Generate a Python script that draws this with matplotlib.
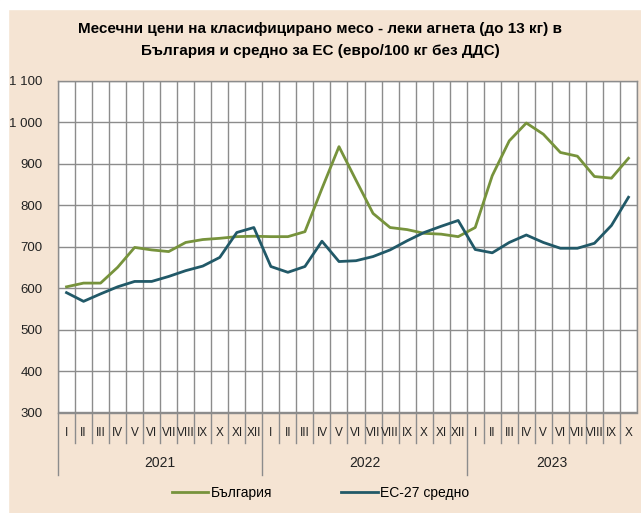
import numpy as np
import matplotlib
matplotlib.use('Agg')
import matplotlib.pyplot as plt
from matplotlib.patches import Rectangle
from matplotlib.ticker import FuncFormatter

plt.rcParams['font.family'] = ['Liberation Sans', 'DejaVu Sans']

months = ['I', 'II', 'III', 'IV', 'V', 'VI', 'VII', 'VIII', 'IX', 'X', 'XI', 'XII']
years = ['2021', '2022', '2023']
months_per_year = [12, 12, 10]
labels = months * 2 + months[:10]

bulgaria = [603, 612, 612, 650, 698, 692, 688, 710, 717, 720, 724, 725,
            724, 724, 736, 840, 941, 860, 780, 746, 741, 732, 730, 724,
            746, 871, 955, 998, 971, 927, 918, 869, 865, 913]
eu27 = [589, 568, 586, 603, 616, 616, 628, 642, 653, 674, 734, 746,
        652, 638, 652, 713, 664, 666, 676, 692, 714, 734, 749, 763,
        693, 685, 710, 728, 710, 696, 696, 708, 751, 819]

bg_col = '#F5E4D3'
fig = plt.figure(figsize=(6.41, 5.13), dpi=100)
fig.patch.set_facecolor(bg_col)
# white strip at top and left edges
fig.patches.append(Rectangle((0, 1 - 9 / 513), 1, 9 / 513, transform=fig.transFigure,
                             color='white', zorder=0))
fig.patches.append(Rectangle((0, 0), 8 / 641, 1, transform=fig.transFigure,
                             color='white', zorder=0))

ax = fig.add_axes([58 / 641, (513 - 412.5) / 513, 579 / 641, 331.8 / 513])
ax.set_facecolor('white')

x = np.arange(len(labels))
ax.plot(x, bulgaria, color='#77933C', lw=2.0, label='България', zorder=3)
ax.plot(x, eu27, color='#215968', lw=2.0, label='ЕС-27 средно', zorder=3)

ax.set_xlim(-0.5, len(labels) - 0.5)
ax.set_ylim(300, 1100)
ax.set_yticks(range(300, 1101, 100))
ax.yaxis.set_major_formatter(FuncFormatter(lambda v, p: f'{int(v):,}'.replace(',', ' ')))
ax.tick_params(axis='y', length=0, pad=11, labelsize=9.5, labelcolor='#222222')

ax.set_xticks(np.arange(-0.5, len(labels), 1), minor=True)
ax.set_xticks([])
ax.grid(True, which='minor', axis='x', color='#8C8C8C', lw=1.0)
ax.grid(True, which='major', axis='y', color='#8C8C8C', lw=1.0)
ax.set_axisbelow(True)
for s in ax.spines.values():
    s.set_color('#8C8C8C')
    s.set_linewidth(1.0)
ax.tick_params(axis='x', which='both', length=0, labelbottom=False)

trans = ax.get_xaxis_transform()
for i, lab in enumerate(labels):
    ax.text(i, -0.062, lab, transform=trans, ha='center', va='center',
            fontsize=8.5, color='#222222')

# category separators and year separators
boundaries = np.cumsum([0] + months_per_year)
for b in np.arange(0, len(labels)):
    low = -0.188 if b in boundaries else -0.092
    ax.plot([b - 0.5, b - 0.5], [0, low], transform=trans, color='#8C8C8C',
            lw=1.0, clip_on=False)
for k, yr in enumerate(years):
    centre = (boundaries[k] + boundaries[k + 1] - 1) / 2
    ax.text(centre, -0.152, yr, transform=trans, ha='center', va='center',
            fontsize=10, color='#222222')

fig.text(0.5, 1 - 29 / 513, 'Месечни цени на класифицирано месо - леки агнета (до 13 кг) в',
         ha='center', va='center', fontsize=11, fontweight='bold')
fig.text(0.5, 1 - 51 / 513, 'България и средно за ЕС (евро/100 кг без ДДС)',
         ha='center', va='center', fontsize=11, fontweight='bold')

fig.legend(loc='center', bbox_to_anchor=(0.5, 20 / 513), ncol=2, frameon=False,
           fontsize=10, handlelength=2.6, handletextpad=0.2, columnspacing=5)

fig.savefig('out.png', dpi=100, facecolor=fig.get_facecolor())
